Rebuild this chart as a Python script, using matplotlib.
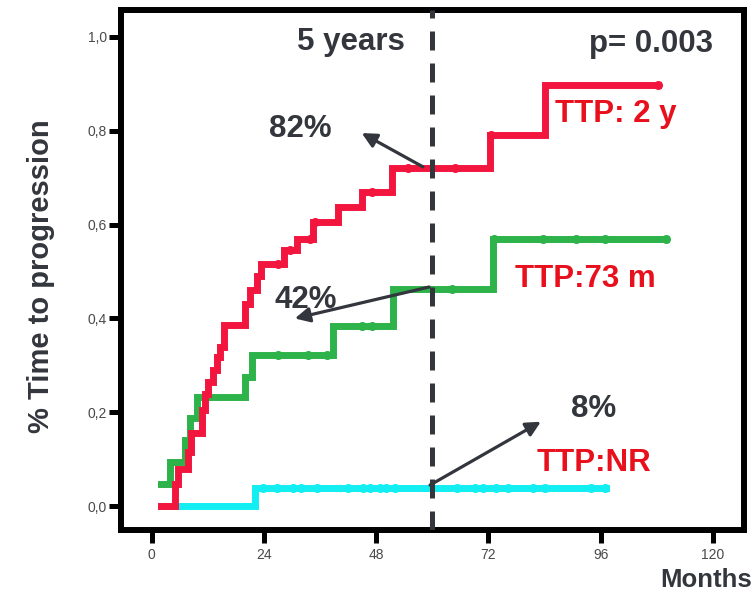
import matplotlib
matplotlib.use("Agg")
import matplotlib.pyplot as plt
import numpy as np

plt.rcParams['font.family'] = ['Liberation Sans', 'DejaVu Sans']

# step curves (time in months, cumulative fraction with progression)
red_t = [2.1, 5.0, 5.7, 7.8, 8.5, 10.7, 11.4, 12.1, 13.2, 13.9, 14.6, 15.5, 19.9, 21.0, 22.6, 23.3,
         28.3, 31.0, 34.5, 39.9, 44.9, 51.3, 72.3, 84.0, 108.3]
red_v = [0.0, 0.048, 0.080, 0.116, 0.155, 0.205, 0.240, 0.265, 0.29, 0.318, 0.34, 0.386, 0.43, 0.46, 0.49, 0.517,
         0.545, 0.570, 0.606, 0.638, 0.670, 0.720, 0.790, 0.897, 0.897]
red_cens = [27.0, 29.5, 33.8, 35.0, 47.0, 54.8, 64.8, 72.5, 108.3]

green_t = [2.1, 3.9, 7.1, 8.2, 9.6, 19.9, 21.4, 38.8, 51.6, 73.0, 110.0]
green_v = [0.047, 0.094, 0.141, 0.187, 0.233, 0.276, 0.322, 0.384, 0.462, 0.569, 0.569]
green_cens = [27.0, 33.5, 37.4, 44.9, 47.0, 64.1, 73.2, 83.7, 90.8, 96.9, 110.0]

cyan_t = [2.1, 22.1, 97.2]
cyan_v = [0.0, 0.038, 0.038]
cyan_cens = [23.9, 26.7, 30.3, 32.0, 35.3, 42.0, 45.2, 46.6, 48.8, 50.2, 52.0,
             65.2, 69.1, 70.9, 73.7, 76.2, 81.5, 84.0, 94.0, 96.9]

xticks = [0, 24, 48, 72, 96, 120]
yticks = [0.0, 0.2, 0.4, 0.6, 0.8, 1.0]
ytick_labels = ['0,0', '0,2', '0,4', '0,6', '0,8', '1,0']

RED = '#f2163f'
GREEN = '#2db34a'
CYAN = '#12eef2'
DARK = '#33363c'
TXTRED = '#e8101c'


def step_at(t, v, x):
    i = np.searchsorted(t, x, side='right') - 1
    return np.array(v)[np.clip(i, 0, len(v) - 1)]


fig = plt.figure(figsize=(7.56, 5.93), dpi=100)
ax = fig.add_axes([0.160, 0.106, 0.824, 0.877])

for t, v, cens, col in [(cyan_t, cyan_v, cyan_cens, CYAN),
                        (green_t, green_v, green_cens, GREEN),
                        (red_t, red_v, red_cens, RED)]:
    ax.step(t, v, where='post', color=col, lw=5.0, solid_joinstyle='miter')
    ax.plot(cens, step_at(t, v, cens), 'o', color=col, ms=6.5, mec='none')

ax.axvline(60, color=DARK, lw=3.6, linestyle=(0, (3.8, 2.6)), zorder=5)

# arrows from the 5 year line
arr = dict(arrowstyle='-|>', color=DARK, lw=2.3, mutation_scale=22, shrinkA=0, shrinkB=0)
ax.annotate('', xy=(44.9, 0.795), xytext=(58.0, 0.723), arrowprops=arr, zorder=6)
ax.annotate('', xy=(30.6, 0.400), xytext=(59.3, 0.467), arrowprops=arr, zorder=6)
ax.annotate('', xy=(83.2, 0.180), xytext=(59.5, 0.045), arrowprops=arr, zorder=6)

big = dict(fontsize=22.5, fontweight='bold', va='baseline')
ax.text(42.6, 0.973, '5 years', color=DARK, ha='center', **big)
ax.text(120.0, 0.967, 'p= 0.003', color=DARK, ha='right', **big)
ax.text(31.7, 0.786, '82%', color=DARK, ha='center', **big)
ax.text(33.0, 0.422, '42%', color=DARK, ha='center', **big)
ax.text(94.5, 0.190, '8%', color=DARK, ha='center', **big)
ax.text(86.2, 0.819, 'TTP: 2 y', color=TXTRED, ha='left', **big)
ax.text(77.6, 0.467, 'TTP:73 m', color=TXTRED, ha='left', **big)
ax.text(82.3, 0.075, 'TTP:NR', color=TXTRED, ha='left', **big)

ax.set_xlim(-6.56, 126.6)
ax.set_ylim(-0.051, 1.057)
ax.set_xticks(xticks)
ax.set_yticks(yticks)
ax.set_yticklabels(ytick_labels)
for s in ax.spines.values():
    s.set_linewidth(4.3)
    s.set_color('black')
ax.tick_params(direction='out', length=9, width=3.6, color='black',
               labelsize=10, labelcolor='#4a4a4a')
ax.tick_params(axis='y', pad=1)
ax.tick_params(axis='x', pad=4)

fig.text(41 / 756, 1 - 276 / 593, '% Time to progression', rotation=90, ha='center', va='center',
         fontsize=21, fontweight='bold', color=DARK)
fig.text(752 / 756, 0.002, 'Months', ha='right', va='bottom',
         fontsize=18.5, fontweight='bold', color=DARK)

fig.savefig('out.png', dpi=100)
